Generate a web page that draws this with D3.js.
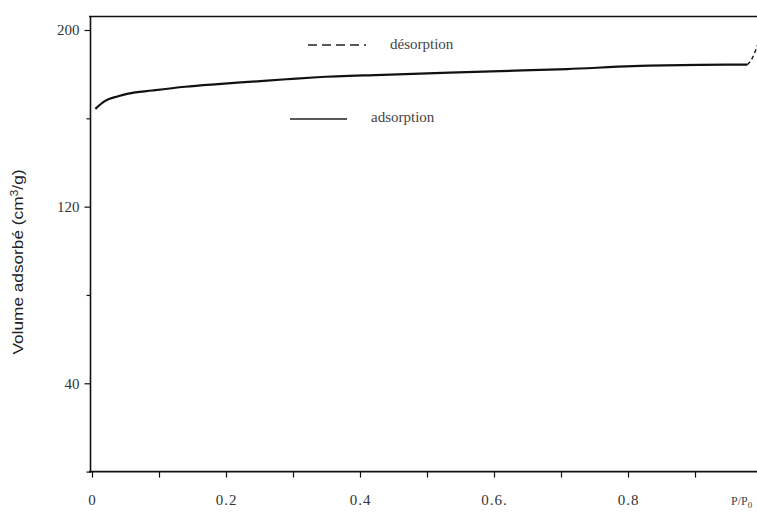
<!DOCTYPE html>
<html>
<head>
<meta charset="utf-8">
<script src="https://cdn.jsdelivr.net/npm/d3@7"></script>
<style>
  body { margin: 0; background: #fff; }
  svg { display: block; }
  .tick text { font-family: "Liberation Serif", serif; font-size: 15px; fill: #333; }
  .domain { stroke: #111; stroke-width: 1.6px; }
  .tick line { stroke: #111; stroke-width: 1.2px; }
</style>
</head>
<body>
<div id="chart"></div>
<script>
// adsorption branch, P/P0 vs volume (cm3/g)
var adsP = [0.005, 0.019, 0.039, 0.054, 0.09, 0.139, 0.188, 0.239, 0.29, 0.336, 0.434, 0.534, 0.609, 0.709, 0.807, 0.907, 0.978];
var adsV = [164.3, 167.8, 170.0, 171.2, 172.6, 174.3, 175.5, 176.6, 177.7, 178.6, 179.7, 180.7, 181.4, 182.3, 183.6, 184.2, 184.3];
// desorption branch (only visible where it leaves the adsorption curve)
var desP = [0.978, 0.983, 0.987, 0.992, 0.998];
var desV = [184.3, 185.8, 188.2, 192.0, 197.5];

var xTicks = [0, 0.1, 0.2, 0.3, 0.4, 0.5, 0.6, 0.7, 0.8, 0.9];
var xLabels = {"0": "0", "0.2": "0.2", "0.4": "0.4", "0.6": "0.6.", "0.8": "0.8"};
var yMajor = [40, 120, 200];
var yMinor = [0, 80, 160];

var W = 757, H = 517;
var svg = d3.select("#chart").append("svg").attr("width", W).attr("height", H);

var x = d3.scaleLinear().domain([0, 1]).range([92, 762]);
var y = d3.scaleLinear().domain([0, 200]).range([471.6, 30]);

// frame top line
svg.append("line")
  .attr("x1", 89).attr("x2", W).attr("y1", 16.5).attr("y2", 16.5)
  .attr("stroke", "#111").attr("stroke-width", 1.6);

var xAxis = d3.axisBottom(x).tickValues(xTicks).tickSizeInner(6).tickSizeOuter(0)
  .tickFormat(function(d){ var k = String(+d.toFixed(1)); return xLabels[k] || ""; });
var gx = svg.append("g").attr("transform", "translate(0," + y(0) + ")").call(xAxis);
gx.select(".domain").attr("d", "M89,0H" + W);
gx.selectAll(".tick text").attr("dy", null).attr("y", 33).attr("letter-spacing", "1px");

var yAxis = d3.axisLeft(y).tickValues(yMajor).tickSizeInner(6).tickSizeOuter(0).tickPadding(5);
var gy = svg.append("g").attr("transform", "translate(90.5,0)").call(yAxis);
gy.select(".domain").attr("d", "M0,16V" + (y(0) + 1));

var yAxis2 = d3.axisLeft(y).tickValues(yMinor).tickSize(4).tickFormat("");
svg.append("g").attr("transform", "translate(90.5,0)").call(yAxis2).select(".domain").remove();

// curves
var line = d3.line().curve(d3.curveMonotoneX);
svg.append("path")
  .attr("d", line(adsP.map(function(p, i){ return [x(p), y(adsV[i])]; })))
  .attr("fill", "none").attr("stroke", "#111").attr("stroke-width", 2.2);
svg.append("path")
  .attr("d", d3.line()(desP.map(function(p, i){ return [x(p), y(desV[i])]; })))
  .attr("fill", "none").attr("stroke", "#111").attr("stroke-width", 1.4)
  .attr("stroke-dasharray", "4,3");

// legend
svg.append("line").attr("x1", 308).attr("x2", 366).attr("y1", 45).attr("y2", 45)
  .attr("stroke", "#222").attr("stroke-width", 1.3).attr("stroke-dasharray", "9,5");
svg.append("text").attr("x", 390).attr("y", 49).text("désorption")
  .attr("font-family", "Liberation Serif, serif").attr("font-size", 15).attr("fill", "#444");
svg.append("line").attr("x1", 290).attr("x2", 347).attr("y1", 119).attr("y2", 119)
  .attr("stroke", "#222").attr("stroke-width", 1.3);
svg.append("text").attr("x", 371).attr("y", 122).text("adsorption")
  .attr("font-family", "Liberation Serif, serif").attr("font-size", 15).attr("fill", "#444");

// axis titles
svg.append("text")
  .attr("transform", "translate(23,262) rotate(-90)")
  .attr("text-anchor", "middle")
  .attr("font-family", "Liberation Sans, Arial, sans-serif").attr("font-size", 14).attr("fill", "#222")
  .attr("textLength", 185).attr("lengthAdjust", "spacingAndGlyphs")
  .html("Volume adsorbé (cm<tspan dy='-5' font-size='10'>3</tspan><tspan dy='5'>/g)</tspan>");
svg.append("text").attr("x", 731).attr("y", 505)
  .attr("font-family", "Liberation Serif, serif").attr("font-size", 12).attr("fill", "#444")
  .html("P/P<tspan dy='3' font-size='9'>0</tspan>");
</script>
</body>
</html>
